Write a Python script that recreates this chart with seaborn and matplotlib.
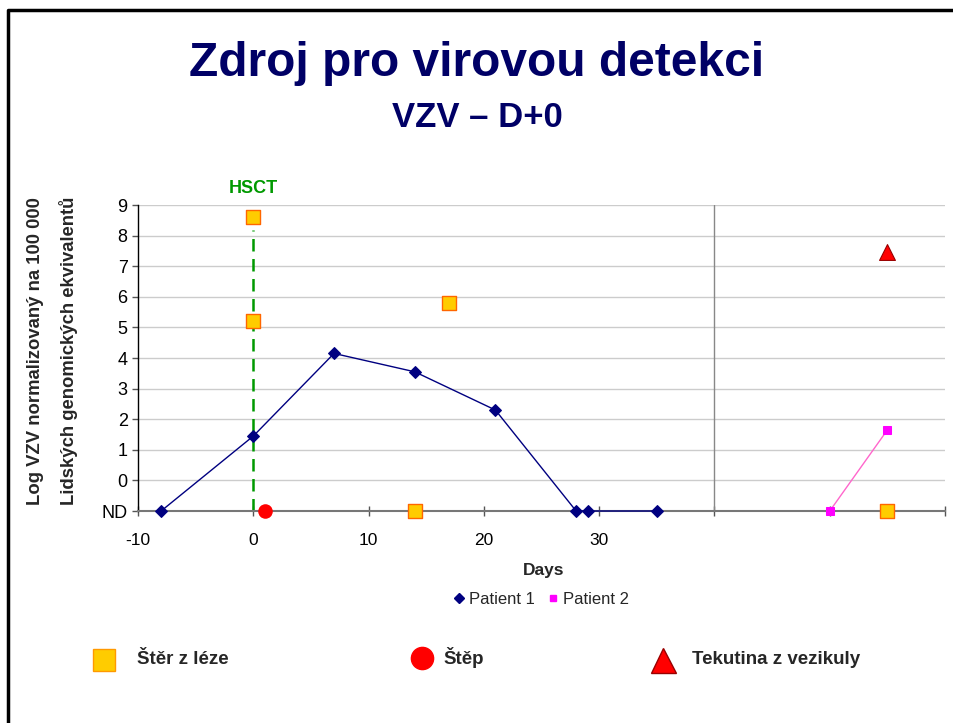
import matplotlib
matplotlib.use("Agg")
import matplotlib.pyplot as plt
from matplotlib.lines import Line2D
import seaborn as sns
import pandas as pd

# ND (not detected) is drawn at -1
ND = -1

p1_days = [-8, 0, 7, 14, 21, 28, 29, 35]
p1_log = [ND, 1.45, 4.15, 3.55, 2.3, ND, ND, ND]

p2_days = [50, 55]
p2_log = [ND, 1.65]

lesion_days = [0, 0, 17, 14, 55]
lesion_log = [8.6, 5.2, 5.8, ND, ND]

graft_days = [1]
graft_log = [ND]

vesicle_days = [55]
vesicle_log = [7.45]

x_ticks = [-10, 0, 10, 20, 30, 40, 50, 60]
x_labels = ["-10", "0", "10", "20", "30", "", "", ""]
y_ticks = [-1, 0, 1, 2, 3, 4, 5, 6, 7, 8, 9]
y_labels = ["ND", "0", "1", "2", "3", "4", "5", "6", "7", "8", "9"]

navy = "#000080"
title_col = "#000066"

sns.set_theme(style="white")
plt.rcParams["font.family"] = ["Liberation Sans", "DejaVu Sans"]

fig = plt.figure(figsize=(9.54, 7.23), dpi=100)
ax = fig.add_axes([0.1447, 0.2932, 0.8459, 0.4232])

ax.set_xlim(-10, 60)
ax.set_ylim(-1, 9)
for yv in y_ticks[1:]:
    ax.axhline(yv, color="#cccccc", lw=1, zorder=0)
ax.axvline(40, color="#888888", lw=1, zorder=1)

ax.vlines(0, ND, 8.2, colors="#009900", linestyles=(0, (5, 3)), lw=1.8, zorder=2)
ax.text(0, 9.55, "HSCT", color="#009900", fontsize=13, fontweight="bold",
        ha="center", va="center")

df1 = pd.DataFrame({"day": p1_days, "log": p1_log})
df2 = pd.DataFrame({"day": p2_days, "log": p2_log})
sns.lineplot(data=df1, x="day", y="log", ax=ax, color=navy, lw=1, marker="D",
             markersize=6, markeredgecolor=navy, legend=False, zorder=4, clip_on=False)
sns.lineplot(data=df2, x="day", y="log", ax=ax, color="#ff66cc", lw=1, marker="s",
             markersize=6, markerfacecolor="#ff00ff", markeredgecolor="#ff00ff",
             legend=False, zorder=4, clip_on=False)

sns.scatterplot(x=lesion_days, y=lesion_log, ax=ax, marker="s", s=110,
                color="#ffcc00", edgecolor="#ff6600", linewidth=1, zorder=5, clip_on=False)
sns.scatterplot(x=graft_days, y=graft_log, ax=ax, marker="o", s=110,
                color="#ff0000", edgecolor="#ff0000", linewidth=0, zorder=5, clip_on=False)
sns.scatterplot(x=vesicle_days, y=vesicle_log, ax=ax, marker="^", s=130,
                color="#ff0000", edgecolor="#990000", linewidth=0.8, zorder=5, clip_on=False)

ax.set_xticks(x_ticks)
ax.set_xticklabels(x_labels, fontsize=12.5)
ax.set_yticks(y_ticks)
ax.set_yticklabels(y_labels, fontsize=13)
ax.tick_params(axis="both", which="both", direction="out", length=4, width=1,
               color="#555555", labelcolor="black", bottom=True, left=True)
ax.tick_params(axis="x", direction="inout", length=7, pad=12)
ax.set_xlabel("Days", fontsize=12.5, fontweight="bold")
ax.xaxis.set_label_coords(0.502, -0.17)
ax.set_ylabel("")

for side in ["top", "right"]:
    ax.spines[side].set_visible(False)
ax.spines["left"].set_color("black")
ax.spines["left"].set_linewidth(1)
ax.spines["bottom"].set_color("#777777")
ax.spines["bottom"].set_linewidth(1.5)

fig.text(0.037, 0.515, "Log VZV normalizovaný na 100 000", rotation=90,
         fontsize=13.3, fontweight="bold", ha="center", va="center")
fig.text(0.072, 0.515, "Lidských genomických ekvivalentů", rotation=90,
         fontsize=13.3, fontweight="bold", ha="center", va="center")

handles = [
    Line2D([], [], ls="none", marker="D", color=navy, markersize=5, label="Patient 1"),
    Line2D([], [], ls="none", marker="s", color="#ff00ff", markersize=5, label="Patient 2"),
]
fig.legend(handles=handles, loc="center", bbox_to_anchor=(0.566, 0.171), ncol=2,
           frameon=False, fontsize=12, handletextpad=0.1, columnspacing=0.6,
           handlelength=1)

fig.text(0.5, 0.912, "Zdroj pro virovou detekci", fontsize=34.5, fontweight="bold",
         color=title_col, ha="center", va="center")
fig.text(0.5, 0.838, "VZV \u2013 D+0", fontsize=25, fontweight="bold",
         color=title_col, ha="center", va="center")

# bottom key of sample types
key_y = 1 - 660 / 723
fig.add_artist(Line2D([104 / 954], [key_y], marker="s", markersize=16, ls="none",
                      markerfacecolor="#ffcc00", markeredgecolor="#ff9900",
                      transform=fig.transFigure))
fig.text(137 / 954, key_y, "Štěr z léze", fontsize=13.5, fontweight="bold", va="center")
fig.add_artist(Line2D([422 / 954], [key_y + 0.003], marker="o", markersize=16, ls="none",
                      markerfacecolor="#ff0000", markeredgecolor="#ff0000",
                      transform=fig.transFigure))
fig.text(443 / 954, key_y + 0.003, "Štěp", fontsize=13.5, fontweight="bold", va="center")
fig.add_artist(Line2D([663 / 954], [key_y], marker="^", markersize=18, ls="none",
                      markerfacecolor="#ff0000", markeredgecolor="#990000",
                      transform=fig.transFigure))
fig.text(692 / 954, key_y, "Tekutina z vezikuly", fontsize=13.5, fontweight="bold", va="center")

# slide frame
fig.add_artist(Line2D([8 / 954, 8 / 954, 1], [0, 1 - 10 / 723, 1 - 10 / 723],
                      color="black", lw=2.5, transform=fig.transFigure))

fig.savefig("out.png", dpi=100)
